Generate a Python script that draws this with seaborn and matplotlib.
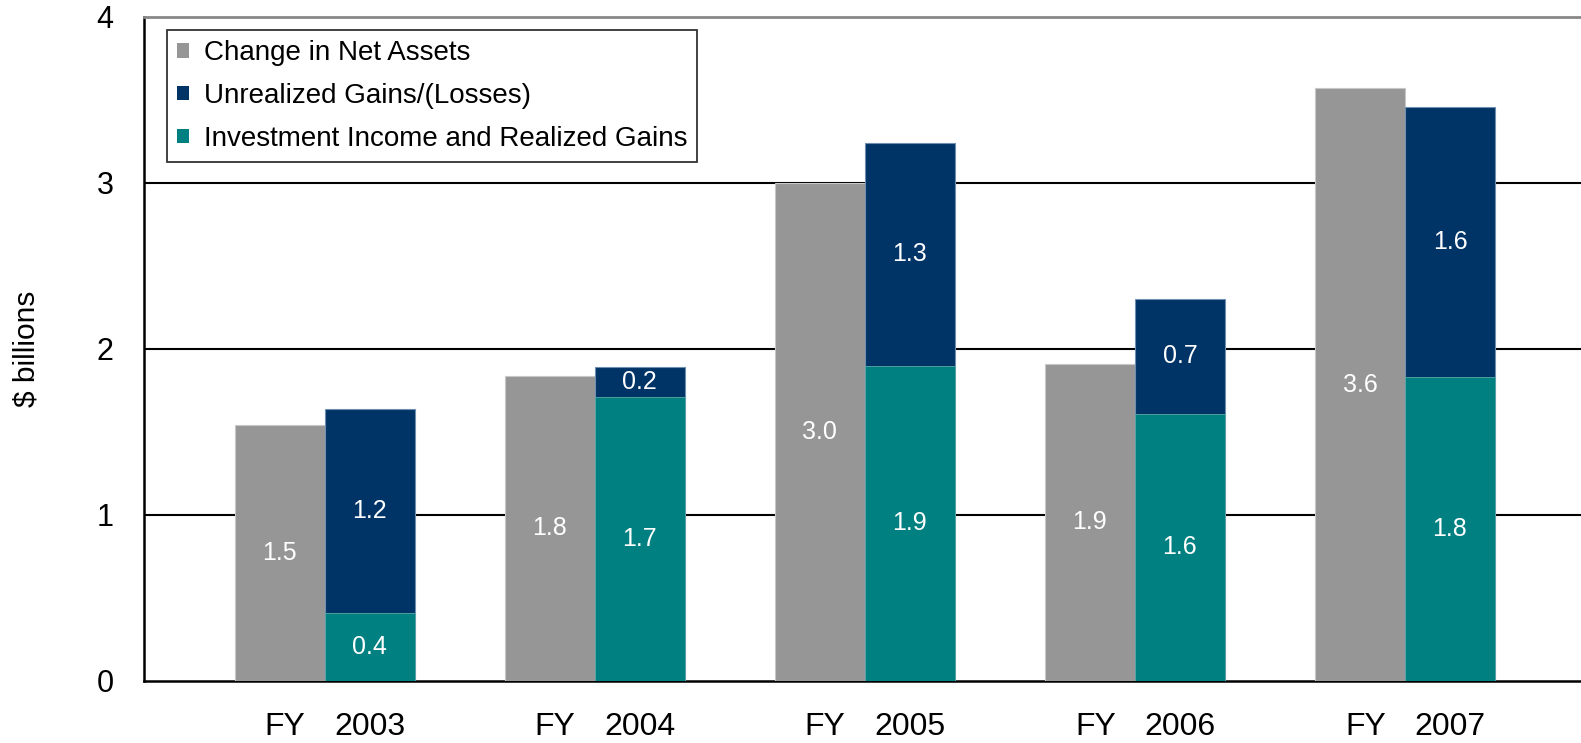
import numpy as np
import pandas as pd
import matplotlib
matplotlib.use("Agg")
import matplotlib.pyplot as plt
import seaborn as sns
from matplotlib.patches import Patch

# ---------------------------
# Data ($ billions)
# ---------------------------
years = ["2003", "2004", "2005", "2006", "2007"]
net_assets = [1.54, 1.84, 3.00, 1.91, 3.57]
unrealized = [1.23, 0.18, 1.34, 0.69, 1.63]
investment = [0.41, 1.71, 1.90, 1.61, 1.83]

net_labels = ["1.5", "1.8", "3.0", "1.9", "3.6"]
unreal_labels = ["1.2", "0.2", "1.3", "0.7", "1.6"]
invest_labels = ["0.4", "1.7", "1.9", "1.6", "1.8"]

series_names = ["Change in Net Assets", "Unrealized Gains/(Losses)",
                "Investment Income and Realized Gains"]
colors = ["#969696", "#003366", "#008080"]

# ---------------------------
# Layout helpers
# ---------------------------
BAR_W = 0.333
idx = np.arange(len(years))
gray_x = idx + 0.002
stack_x = idx + 0.335
totals = [u + i for u, i in zip(unrealized, investment)]

df_gray = pd.DataFrame({"x": gray_x, "v": net_assets})
df_total = pd.DataFrame({"x": stack_x, "v": totals})
df_inv = pd.DataFrame({"x": stack_x, "v": investment})

sns.set_theme(style="white")
plt.rcParams["font.family"] = ["Liberation Sans", "DejaVu Sans"]
plt.rcParams["text.color"] = "black"
plt.rcParams["axes.labelcolor"] = "black"
plt.rcParams["xtick.color"] = "black"
plt.rcParams["ytick.color"] = "black"

fig = plt.figure(figsize=(15.81, 7.43), dpi=100)
ax = fig.add_axes([144 / 1581, 62 / 743, 1 - 144 / 1581, (681 - 17) / 743])

sns.barplot(data=df_gray, x="x", y="v", native_scale=True, width=BAR_W,
            color=colors[0], saturation=1, edgecolor="#c8c8c8", linewidth=0.8, ax=ax, zorder=3)
sns.barplot(data=df_total, x="x", y="v", native_scale=True, width=BAR_W,
            color=colors[1], saturation=1, edgecolor="#6f8fb0", linewidth=0.8, ax=ax, zorder=3)
sns.barplot(data=df_inv, x="x", y="v", native_scale=True, width=BAR_W,
            color=colors[2], saturation=1, edgecolor="#5aa8a8", linewidth=0.6, ax=ax, zorder=4)

# bar value labels
for i in range(len(years)):
    ax.text(gray_x[i], net_assets[i] / 2, net_labels[i], ha="center", va="center",
            color="white", fontsize=18, zorder=6)
    ax.text(stack_x[i], investment[i] + unrealized[i] / 2, unreal_labels[i], ha="center",
            va="center", color="white", fontsize=18, zorder=6)
    ax.text(stack_x[i], investment[i] / 2, invest_labels[i], ha="center", va="center",
            color="white", fontsize=18, zorder=6)

ax.set_xlim(-0.5, 4.82)
ax.set_ylim(0, 4)

# y axis
ax.set_yticks([0, 1, 2, 3, 4])
ax.set_yticklabels(["0", "1", "2", "3", "4"], fontsize=22)
ax.tick_params(axis="y", direction="in", length=0, pad=22)
for yv in [1, 2, 3]:
    ax.axhline(yv, color="black", linewidth=1.5, zorder=1)
ax.set_ylabel("$ billions", fontsize=21.5, labelpad=40)

# x axis: major ticks between groups, minor ticks carry FY / year labels
ax.set_xticks(idx + 0.5)
ax.set_xticklabels([])
ax.tick_params(axis="x", which="major", direction="in", length=6, width=1.5, color="black")
minor_pos = []
minor_lab = []
for i, y in enumerate(years):
    minor_pos += [gray_x[i] + 0.02, stack_x[i]]
    minor_lab += ["FY", y]
ax.set_xticks(minor_pos, minor=True)
ax.set_xticklabels(minor_lab, minor=True, fontsize=23)
ax.tick_params(axis="x", which="minor", length=0, pad=22)
ax.set_xlabel("")

for s in ["left", "bottom"]:
    ax.spines[s].set_color("black")
    ax.spines[s].set_linewidth(1.8)
ax.spines["right"].set_visible(False)
ax.spines["top"].set_color("#888888")
ax.spines["top"].set_linewidth(2)

handles = [Patch(facecolor=c, edgecolor="none", label=n) for c, n in zip(colors, series_names)]
leg = ax.legend(handles=handles, loc="upper left", bbox_to_anchor=(0.016, 0.98),
                fontsize=20, frameon=True, fancybox=False, edgecolor="black",
                handlelength=0.42, handleheight=0.42, handletextpad=0.55,
                labelspacing=0.6, borderpad=0.36, borderaxespad=0)
leg.get_frame().set_linewidth(1.3)
leg.set_zorder(10)

fig.savefig("out.png", dpi=100)
